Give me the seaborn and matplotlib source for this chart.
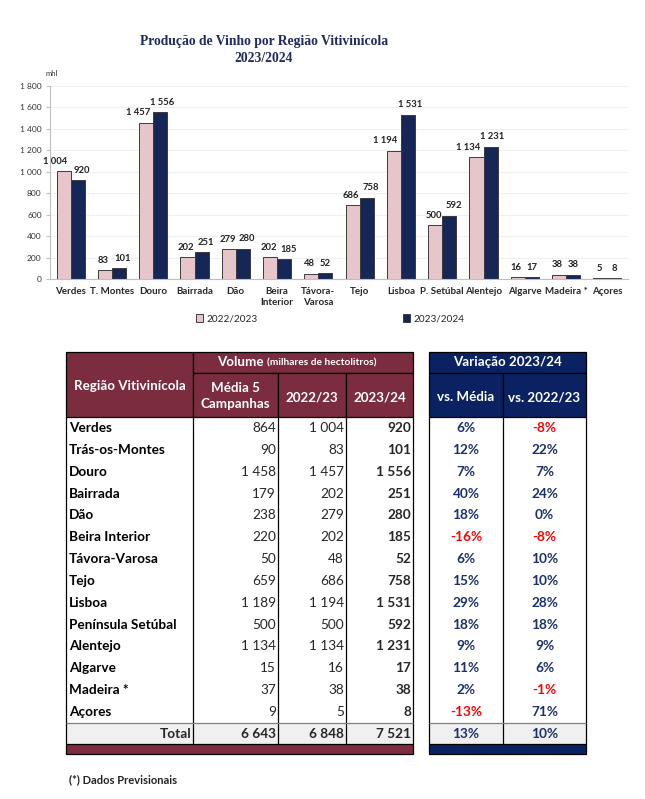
import numpy as np
import pandas as pd
import matplotlib.pyplot as plt
import seaborn as sns
from matplotlib.patches import Rectangle

# dados do gráfico / tabela
categorias = ["Verdes", "T. Montes", "Douro", "Bairrada", "Dão", "Beira\nInterior",
              "Távora-\nVarosa", "Tejo", "Lisboa", "P. Setúbal", "Alentejo",
              "Algarve", "Madeira *", "Açores"]
regioes = ["Verdes", "Trás-os-Montes", "Douro", "Bairrada", "Dão", "Beira Interior",
           "Távora-Varosa", "Tejo", "Lisboa", "Península Setúbal", "Alentejo",
           "Algarve", "Madeira *", "Açores"]
media5 = [864, 90, 1458, 179, 238, 220, 50, 659, 1189, 500, 1134, 15, 37, 9]
v2223 = [1004, 83, 1457, 202, 279, 202, 48, 686, 1194, 500, 1134, 16, 38, 5]
v2324 = [920, 101, 1556, 251, 280, 185, 52, 758, 1531, 592, 1231, 17, 38, 8]
var_media = [6, 12, 7, 40, 18, -16, 6, 15, 29, 18, 9, 11, 2, -13]
var_2223 = [-8, 22, 7, 24, 0, -8, 10, 10, 28, 18, 9, 6, -1, 71]
totais = [6643, 6848, 7521]
var_totais = [13, 10]
campanhas = ["2022/2023", "2023/2024"]
yticks = [0, 200, 400, 600, 800, 1000, 1200, 1400, 1600, 1800]

ROSA = "#EBC0C8"
AZUL = "#0B2262"
GRENA = "#7B2C3F"
NAVY_TXT = "#1A2F6B"

sns.set_style("white")
plt.rcParams["font.family"] = ["Lato", "DejaVu Sans"]


def fmt(v):
    return f"{v:,}".replace(",", " ")


W, H = 645, 799
fig = plt.figure(figsize=(W / 100, H / 100), dpi=100)

# ---- gráfico de barras ----
ax = fig.add_axes([50 / W, 1 - 279 / H, 578 / W, 193 / H])
df = pd.DataFrame({
    "regiao": categorias * 2,
    "campanha": [campanhas[0]] * len(categorias) + [campanhas[1]] * len(categorias),
    "valor": v2223 + v2324,
})
sns.barplot(data=df, x="regiao", y="valor", hue="campanha", hue_order=campanhas,
            palette=[ROSA, AZUL], width=0.68, edgecolor="#3c3c3c", linewidth=0.7,
            ax=ax)
# rótulos afastados uns dos outros como no Excel
for k, (cont, vals) in enumerate(zip(ax.containers, [v2223, v2324])):
    anns = ax.bar_label(cont, labels=[fmt(v) for v in vals], padding=4, fontsize=6.8,
                        fontweight="bold", color="#222222")
    for a, v in zip(anns, vals):
        if k == 0:
            dx = -6 if v >= 1000 else -1
        else:
            dx = 1.5 if v >= 1000 else (3 if v >= 100 else 0)
        a.xyann = (dx, a.xyann[1])

ax.set_ylim(0, 1800)
ax.set_xlim(-0.5, len(categorias) - 0.5)
ax.set_yticks(yticks)
ax.set_yticklabels([fmt(v) for v in yticks], fontsize=6, color="#333333")
ax.set_xlabel("")
ax.set_ylabel("")
ax.tick_params(axis="x", labelsize=7, length=0, pad=6)
for lab in ax.get_xticklabels():
    lab.set_fontweight("bold")
ax.set_xticks(np.arange(len(categorias) + 1) - 0.5, minor=True)
ax.tick_params(axis="x", which="minor", length=3, color="#BFBFBF")
ax.tick_params(axis="y", length=3, color="#BFBFBF", pad=3, left=True)
ax.yaxis.grid(True, color="#F0F0F0", linewidth=0.8)
ax.set_axisbelow(True)
for s in ["top", "right"]:
    ax.spines[s].set_visible(False)
ax.spines["left"].set_color("#BFBFBF")
ax.spines["bottom"].set_color("#BFBFBF")

sns.move_legend(ax, "center", bbox_to_anchor=(0.5, 0.5), ncol=2, frameon=False,
                title=None, fontsize=7.2, columnspacing=14.5, handlelength=0.75,
                handleheight=0.75, handletextpad=0.3)
leg = ax.get_legend()
leg.set_bbox_to_anchor((330 / W, 1 - 319 / H), transform=fig.transFigure)

fig.text(264 / W, 1 - 42 / H, "Produção de Vinho por Região Vitivinícola",
         ha="center", va="center", fontsize=9.8, fontweight="bold",
         family="Liberation Serif", color="#1F2A5E")
fig.text(264 / W, 1 - 58 / H, "2023/2024", ha="center", va="center",
         fontsize=9.8, fontweight="bold", family="Liberation Serif", color="#1F2A5E")
fig.text(45 / W, 1 - 73 / H, "mhl", ha="left", va="center", fontsize=5.5,
         color="#333333")

# ---- tabelas ----
ov = fig.add_axes([0, 0, 1, 1], zorder=-1)
ov.set_xlim(0, W)
ov.set_ylim(H, 0)
ov.axis("off")

LC = [66, 193, 278, 346, 413]
RC = [429, 503, 586]
TOP, MID, HB = 352, 373, 417
TT, TB, BB = 723, 744, 754
rh = (TT - HB) / len(regioes)
FS = 9.8
FH = 9.6


def rect(x0, y0, x1, y1, fc, ec="black", lw=0.9):
    ov.add_patch(Rectangle((x0, y0), x1 - x0, y1 - y0, facecolor=fc, edgecolor=ec,
                           linewidth=lw))


def line(x0, y0, x1, y1, c="black", lw=0.9):
    ov.plot([x0, x1], [y0, y1], color=c, linewidth=lw, solid_capstyle="butt")


# cabeçalho esquerdo
rect(LC[0], TOP, LC[1], HB, GRENA)
rect(LC[1], TOP, LC[4], MID, GRENA)
for i in range(1, 4):
    rect(LC[i], MID, LC[i + 1], HB, GRENA)
ov.text((LC[0] + LC[1]) / 2, (TOP + HB) / 2 + 1, "Região Vitivinícola", ha="center",
        va="center", color="white", fontsize=FH, fontweight="bold")
ov.text(264, (TOP + MID) / 2, "Volume", ha="right", va="center", color="white",
        fontsize=FH, fontweight="bold")
ov.text(267, (TOP + MID) / 2 + 0.5, "(milhares de hectolitros)", ha="left",
        va="center", color="white", fontsize=7.3, fontweight="bold")
ov.text((LC[1] + LC[2]) / 2, (MID + HB) / 2 + 1.5, "Média 5\nCampanhas", ha="center",
        va="center", color="white", fontsize=FH, fontweight="bold", linespacing=1.4)
ov.text((LC[2] + LC[3]) / 2, (MID + HB) / 2 + 2, "2022/23", ha="center", va="center",
        color="white", fontsize=FH, fontweight="bold")
ov.text((LC[3] + LC[4]) / 2, (MID + HB) / 2 + 2, "2023/24", ha="center", va="center",
        color="white", fontsize=FH, fontweight="bold")

# cabeçalho direito
rect(RC[0], TOP, RC[2], MID, AZUL)
rect(RC[0], MID, RC[1], HB, AZUL)
rect(RC[1], MID, RC[2], HB, AZUL)
ov.text((RC[0] + RC[2]) / 2, (TOP + MID) / 2, "Variação 2023/24", ha="center",
        va="center", color="white", fontsize=FH, fontweight="bold")
ov.text((RC[0] + RC[1]) / 2, (MID + HB) / 2 + 2, "vs. Média", ha="center",
        va="center", color="white", fontsize=FH, fontweight="bold")
ov.text((RC[1] + RC[2]) / 2, (MID + HB) / 2 + 2, "vs. 2022/23", ha="center",
        va="center", color="white", fontsize=FH, fontweight="bold")

# linhas de dados
for i, reg in enumerate(regioes):
    y = HB + (i + 0.5) * rh
    ov.text(LC[0] + 3, y, reg, ha="left", va="center", fontsize=FS,
            fontweight="bold", color="black")
    ov.text(LC[2] - 2, y, fmt(media5[i]), ha="right", va="center", fontsize=FS)
    ov.text(LC[3] - 2, y, fmt(v2223[i]), ha="right", va="center", fontsize=FS)
    ov.text(LC[4] - 2, y, fmt(v2324[i]), ha="right", va="center", fontsize=FS,
            fontweight="bold")
    for j, v in enumerate([var_media[i], var_2223[i]]):
        ov.text((RC[j] + RC[j + 1]) / 2, y, f"{v}%", ha="center", va="center",
                fontsize=FS, fontweight="bold",
                color="#FF0000" if v < 0 else NAVY_TXT)

# total
rect(LC[0], TT, LC[4], TB, "#F0F0F0", ec="none")
rect(RC[0], TT, RC[2], TB, "#F0F0F0", ec="none")
yt = (TT + TB) / 2
ov.text(LC[1] - 2, yt, "Total", ha="right", va="center", fontsize=FS,
        fontweight="bold")
for k, t in enumerate(totais):
    ov.text(LC[k + 2] - 2, yt, fmt(t), ha="right", va="center", fontsize=FS,
            fontweight="bold")
for j, t in enumerate(var_totais):
    ov.text((RC[j] + RC[j + 1]) / 2, yt, f"{t}%", ha="center", va="center",
            fontsize=FS, fontweight="bold", color=NAVY_TXT)

# grelha
for x in LC:
    line(x, HB, x, TB)
for x in RC:
    line(x, HB, x, TB)
line(LC[0], TT, LC[4], TT, c="#808080")
line(RC[0], TT, RC[2], TT, c="#808080")
rect(LC[0], TB, LC[4], BB, GRENA)
rect(RC[0], TB, RC[2], BB, AZUL)

ov.text(69, 780, "(*) Dados Previsionais", ha="left", va="center", fontsize=8,
        fontweight="bold", color="#222222")

fig.savefig("out.png", dpi=100)
